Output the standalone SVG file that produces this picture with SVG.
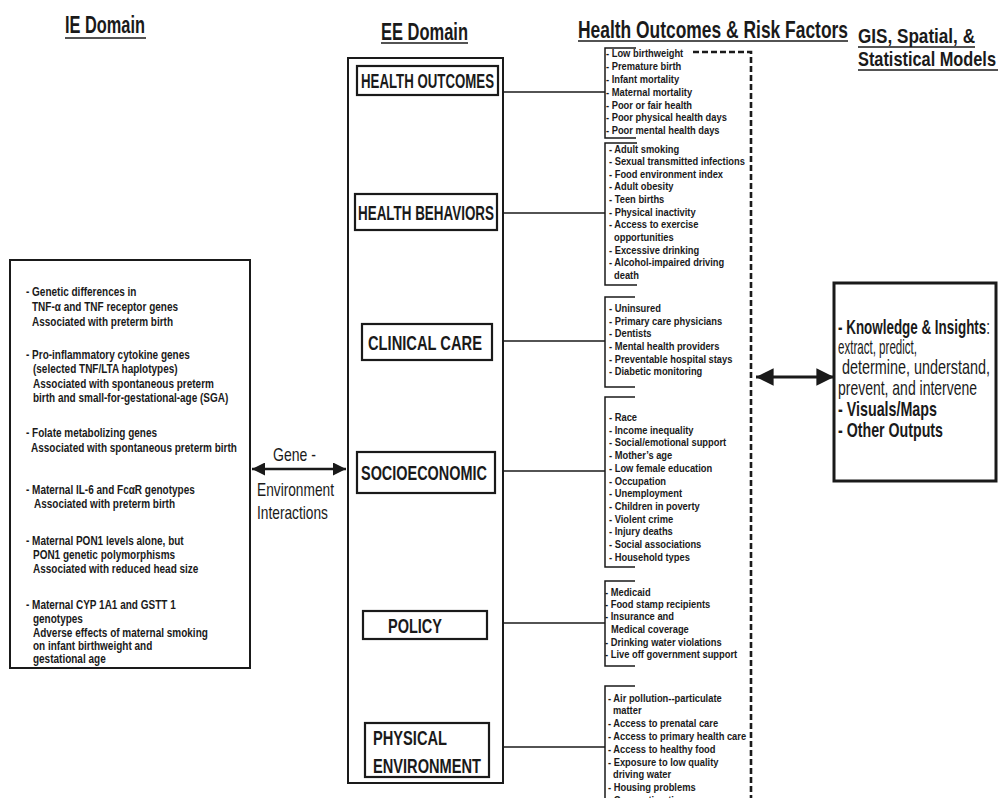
<svg xmlns="http://www.w3.org/2000/svg" width="1001" height="798" viewBox="0 0 1001 798">
<style>
text{font-family:"Liberation Sans",Arial,sans-serif;fill:#1a1a1a}
.h{font-size:24px;font-weight:bold}
.h2{font-size:21px;font-weight:bold}
.n{font-size:20px;font-weight:bold}
.li{font-size:11.4px;font-weight:bold}
.lb{font-size:12.2px;font-weight:bold}
.r{font-size:19px}
.m{font-size:21px}
.box{fill:#fff;stroke:#1a1a1a;stroke-width:2}
.nb{fill:#fff;stroke:#1a1a1a;stroke-width:2.2}
.ln{fill:none;stroke:#1a1a1a;stroke-width:1.5}
.ul{stroke:#1a1a1a;stroke-width:1.6}
</style>
<defs>
<marker id="ah" viewBox="0 0 10 10" refX="10" refY="5" markerWidth="5" markerHeight="5" orient="auto-start-reverse" markerUnits="strokeWidth"><path d="M0,0 L10,5 L0,10 z" fill="#1a1a1a"/></marker>
<marker id="ah2" viewBox="0 0 10 10" refX="10" refY="5" markerWidth="5.5" markerHeight="6" orient="auto-start-reverse" markerUnits="strokeWidth"><path d="M0,0 L10,5 L0,10 z" fill="#1a1a1a"/></marker>
</defs>
<rect width="1001" height="798" fill="#fff"/>

<g id="headers">
<text class="h" x="65" y="33" textLength="80" lengthAdjust="spacingAndGlyphs">IE Domain</text>
<line class="ul" x1="65" y1="38" x2="146" y2="38"/>
<text class="h" x="381" y="40" textLength="87" lengthAdjust="spacingAndGlyphs">EE Domain</text>
<line class="ul" x1="381" y1="43" x2="468" y2="43"/>
<text class="h" x="578" y="38" textLength="270" lengthAdjust="spacingAndGlyphs">Health Outcomes &amp; Risk Factors</text>
<line class="ul" x1="578" y1="41" x2="848" y2="41"/>
<text class="h2" x="858" y="43" textLength="117" lengthAdjust="spacingAndGlyphs">GIS, Spatial, &amp;</text>
<line class="ul" x1="858" y1="47" x2="975" y2="47"/>
<text class="h2" x="858" y="66" textLength="138" lengthAdjust="spacingAndGlyphs">Statistical Models</text>
<line class="ul" x1="858" y1="70" x2="998" y2="70"/>
</g>

<g id="ie-domain">
<rect class="box" x="10" y="260" width="240" height="408"/>
<g transform="matrix(0.82 0 0 1 26 0)">
<text class="lb" x="0" y="296">- Genetic differences in</text>
<text class="lb" x="7.3" y="311">TNF-α and TNF receptor genes</text>
<text class="lb" x="7.3" y="326">Associated with preterm birth</text>
<text class="lb" x="0" y="359">- Pro-inflammatory cytokine genes</text>
<text class="lb" x="8.5" y="373">(selected TNF/LTA haplotypes)</text>
<text class="lb" x="8.5" y="388">Associated with spontaneous preterm</text>
<text class="lb" x="8.5" y="402">birth and small-for-gestational-age (SGA)</text>
<text class="lb" x="0" y="437">- Folate metabolizing genes</text>
<text class="lb" x="6.1" y="452">Associated with spontaneous preterm birth</text>
<text class="lb" x="0" y="494">- Maternal IL-6 and FcαR genotypes</text>
<text class="lb" x="9.8" y="508">Associated with preterm birth</text>
<text class="lb" x="0" y="545">- Maternal PON1 levels alone, but</text>
<text class="lb" x="8.5" y="559">PON1 genetic polymorphisms</text>
<text class="lb" x="8.5" y="573">Associated with reduced head size</text>
<text class="lb" x="0" y="609">- Maternal CYP 1A1 and GSTT 1</text>
<text class="lb" x="8.5" y="623">genotypes</text>
<text class="lb" x="8.5" y="637">Adverse effects of maternal smoking</text>
<text class="lb" x="8.5" y="650">on infant birthweight and</text>
<text class="lb" x="8.5" y="663">gestational age</text>
</g>
</g>

<g id="gene-environment">
<text class="r" x="273" y="461" textLength="43" lengthAdjust="spacingAndGlyphs">Gene -</text>
<text class="r" x="257" y="496" textLength="77" lengthAdjust="spacingAndGlyphs">Environment</text>
<text class="r" x="257" y="519" textLength="71" lengthAdjust="spacingAndGlyphs">Interactions</text>
</g>

<g id="ee-domain">
<rect class="box" x="348" y="58" width="155" height="725"/>
</g>

<g id="health-outcomes">
<rect class="nb" x="357" y="66" width="141" height="29"/>
<text class="n" x="361" y="88" textLength="133" lengthAdjust="spacingAndGlyphs">HEALTH OUTCOMES</text>
</g>
<g id="health-behaviors">
<rect class="nb" x="355" y="194" width="142" height="36"/>
<text class="n" x="358" y="220" textLength="136" lengthAdjust="spacingAndGlyphs">HEALTH BEHAVIORS</text>
</g>
<g id="clinical-care">
<rect class="nb" x="362" y="324" width="130" height="36"/>
<text class="n" x="368" y="350" textLength="114" lengthAdjust="spacingAndGlyphs">CLINICAL CARE</text>
</g>
<g id="socioeconomic">
<rect class="nb" x="357" y="452" width="138" height="41"/>
<text class="n" x="361" y="480" textLength="126" lengthAdjust="spacingAndGlyphs">SOCIOECONOMIC</text>
</g>
<g id="policy">
<rect class="nb" x="363" y="611" width="124" height="28"/>
<text class="n" x="388" y="633" textLength="54" lengthAdjust="spacingAndGlyphs">POLICY</text>
</g>
<g id="physical-environment">
<rect class="nb" x="365" y="723" width="124" height="54"/>
<text class="n" x="373" y="745" textLength="74" lengthAdjust="spacingAndGlyphs">PHYSICAL</text>
<text class="n" x="373" y="773" textLength="108" lengthAdjust="spacingAndGlyphs">ENVIRONMENT</text>
</g>

<g id="ho-list" transform="matrix(0.82 0 0 1 606 0)">
<text class="li" x="0" y="57">- Low birthweight</text>
<text class="li" x="0" y="70">- Premature birth</text>
<text class="li" x="0" y="83">- Infant mortality</text>
<text class="li" x="0" y="96">- Maternal mortality</text>
<text class="li" x="0" y="109">- Poor or fair health</text>
<text class="li" x="0" y="121.5">- Poor physical health days</text>
<text class="li" x="0" y="134">- Poor mental health days</text>
</g>
<g id="hb-list" transform="matrix(0.82 0 0 1 609 0)">
<text class="li" x="0" y="153">- Adult smoking</text>
<text class="li" x="0" y="165.5">- Sexual transmitted infections</text>
<text class="li" x="0" y="178">- Food environment index</text>
<text class="li" x="0" y="190.5">- Adult obesity</text>
<text class="li" x="0" y="203">- Teen births</text>
<text class="li" x="0" y="216">- Physical inactivity</text>
<text class="li" x="0" y="228.5">- Access to exercise</text>
<text class="li" x="6.1" y="241">opportunities</text>
<text class="li" x="0" y="254">- Excessive drinking</text>
<text class="li" x="0" y="266.5">- Alcohol-impaired driving</text>
<text class="li" x="6.1" y="279">death</text>
</g>
<g id="cc-list" transform="matrix(0.82 0 0 1 609 0)">
<text class="li" x="0" y="312">- Uninsured</text>
<text class="li" x="0" y="325">- Primary care physicians</text>
<text class="li" x="0" y="337">- Dentists</text>
<text class="li" x="0" y="350">- Mental health providers</text>
<text class="li" x="0" y="363">- Preventable hospital stays</text>
<text class="li" x="0" y="375">- Diabetic monitoring</text>
</g>
<g id="se-list" transform="matrix(0.82 0 0 1 609 0)">
<text class="li" x="0" y="421">- Race</text>
<text class="li" x="0" y="433.7">- Income inequality</text>
<text class="li" x="0" y="446.5">- Social/emotional support</text>
<text class="li" x="0" y="459.2">- Mother’s age</text>
<text class="li" x="0" y="471.9">- Low female education</text>
<text class="li" x="0" y="484.6">- Occupation</text>
<text class="li" x="0" y="497.4">- Unemployment</text>
<text class="li" x="0" y="510.1">- Children in poverty</text>
<text class="li" x="0" y="522.8">- Violent crime</text>
<text class="li" x="0" y="535.5">- Injury deaths</text>
<text class="li" x="0" y="548.3">- Social associations</text>
<text class="li" x="0" y="561">- Household types</text>
</g>
<g id="policy-list" transform="matrix(0.82 0 0 1 605 0)">
<text class="li" x="0" y="596">- Medicaid</text>
<text class="li" x="0" y="608">- Food stamp recipients</text>
<text class="li" x="0" y="620">- Insurance and</text>
<text class="li" x="7.3" y="633">Medical coverage</text>
<text class="li" x="0" y="646">- Drinking water violations</text>
<text class="li" x="0" y="658">- Live off government support</text>
</g>
<g id="pe-list" transform="matrix(0.82 0 0 1 608 0)">
<text class="li" x="0" y="702">- Air pollution--particulate</text>
<text class="li" x="6.1" y="714">matter</text>
<text class="li" x="0" y="727">- Access to prenatal care</text>
<text class="li" x="0" y="740">- Access to primary health care</text>
<text class="li" x="0" y="753">- Access to healthy food</text>
<text class="li" x="0" y="766">- Exposure to low quality</text>
<text class="li" x="6.1" y="778">driving water</text>
<text class="li" x="0" y="791">- Housing problems</text>
<text class="li" x="0" y="804">- Commuting time</text>
</g>

<g id="models">
<rect x="834" y="283" width="162" height="198" fill="#fff" stroke="#1a1a1a" stroke-width="3"/>
<text class="m" x="838" y="334" textLength="152" lengthAdjust="spacingAndGlyphs"><tspan font-weight="bold">- Knowledge &amp; Insights</tspan>:</text>
<text class="m" x="838" y="354" textLength="79" lengthAdjust="spacingAndGlyphs">extract, predict,</text>
<text class="m" x="842" y="374" textLength="148" lengthAdjust="spacingAndGlyphs">determine, understand,</text>
<text class="m" x="838" y="395" textLength="139" lengthAdjust="spacingAndGlyphs">prevent, and intervene</text>
<text class="m" font-weight="bold" x="838" y="416" textLength="99" lengthAdjust="spacingAndGlyphs">- Visuals/Maps</text>
<text class="m" font-weight="bold" x="838" y="437" textLength="105" lengthAdjust="spacingAndGlyphs">- Other Outputs</text>
</g>

<g id="connectors">
<line class="ln" x1="503" y1="92" x2="605" y2="92"/>
<path class="ln" d="M636,48 H605 V138 H636"/>
<line class="ln" x1="503" y1="213" x2="605" y2="213"/>
<path class="ln" d="M637,143 H605 V285 H637"/>
<line class="ln" x1="503" y1="341" x2="605" y2="341"/>
<path class="ln" d="M635,297 H605 V387 H635"/>
<line class="ln" x1="503" y1="471" x2="605" y2="471"/>
<path class="ln" d="M635,397 H605 V567 H635"/>
<line class="ln" x1="503" y1="623" x2="605" y2="623"/>
<path class="ln" d="M635,581 H605 V666 H635"/>
<line class="ln" x1="503" y1="747" x2="605" y2="747"/>
<path class="ln" d="M635,686 H605 V800"/>
<path d="M693,52 H751 V800" fill="none" stroke="#1a1a1a" stroke-width="2.6" stroke-dasharray="6 3"/>
<line x1="252" y1="469" x2="346" y2="469" stroke="#1a1a1a" stroke-width="2.6" marker-start="url(#ah)" marker-end="url(#ah)"/>
<line x1="756" y1="377" x2="834" y2="377" stroke="#1a1a1a" stroke-width="3.2" marker-start="url(#ah2)" marker-end="url(#ah2)"/>
</g>
</svg>
